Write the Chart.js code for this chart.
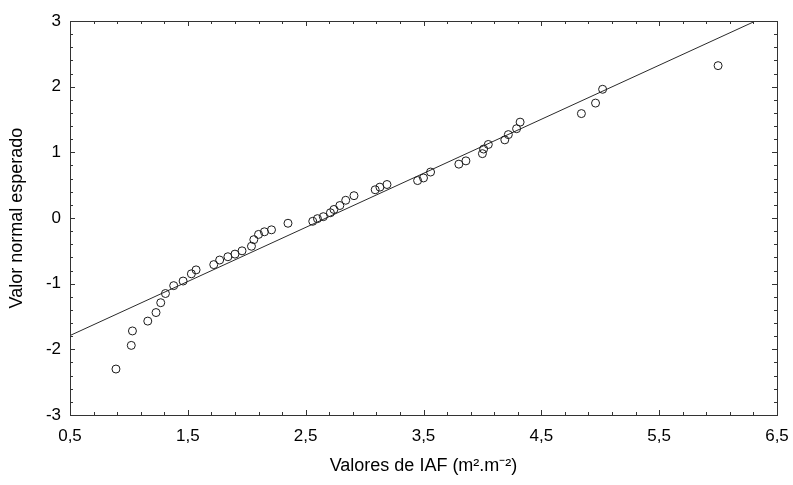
<!DOCTYPE html>
<html>
<head>
<meta charset="utf-8">
<script src="https://cdn.jsdelivr.net/npm/chart.js@4.4.0/dist/chart.umd.min.js"></script>
<style>
    body { margin: 0; background: #fff; }
    #wrap { width: 793px; height: 485px; }
</style>
</head>
<body>
<div id="wrap"><canvas id="probChart" width="793" height="485"></canvas></div>
<script>
// Observed IAF values and their expected normal scores
const iafValues = [
    0.89, 1.02, 1.03, 1.16, 1.23, 1.27, 1.31, 1.38, 1.46, 1.53,
    1.57, 1.72, 1.77, 1.84, 1.90, 1.96, 2.04, 2.06, 2.10, 2.15,
    2.21, 2.35, 2.56, 2.60, 2.65, 2.71, 2.74, 2.79, 2.84, 2.91,
    3.09, 3.13, 3.19, 3.45, 3.50, 3.56, 3.80, 3.86, 4.00, 4.01,
    4.05, 4.19, 4.22, 4.29, 4.32, 4.84, 4.96, 5.02, 6.00
];
const normalValues = [
    -2.30, -1.94, -1.72, -1.57, -1.44, -1.29, -1.15, -1.03, -0.96, -0.85,
    -0.79, -0.71, -0.64, -0.59, -0.55, -0.50, -0.43, -0.33, -0.25, -0.21,
    -0.18, -0.08, -0.05, -0.01, 0.02, 0.08, 0.13, 0.19, 0.27, 0.34,
    0.43, 0.47, 0.51, 0.57, 0.61, 0.70, 0.82, 0.87, 0.98, 1.05,
    1.12, 1.19, 1.27, 1.36, 1.46, 1.59, 1.75, 1.96, 2.32
];

// Reference line (ends of the fitted line)
const fitX = [0.5, 6.5];
const fitY = [-1.79, 3.15];

// Axis ticks
const xTickValues = [0.5, 1.5, 2.5, 3.5, 4.5, 5.5, 6.5];
const yTickValues = [-3, -2, -1, 0, 1, 2, 3];

const FONT = 'Liberation Sans, Arial, sans-serif';

// Frame with small inward ticks on all four sides
const framePlugin = {
    id: 'frame',
    afterDraw(chart) {
        const ctx = chart.ctx;
        const area = chart.chartArea;
        const xs = chart.scales.x;
        const ys = chart.scales.y;
        ctx.save();
        ctx.strokeStyle = '#333';
        ctx.lineWidth = 1;
        ctx.strokeRect(Math.round(area.left) + 0.5, Math.round(area.top) + 0.5,
            Math.round(area.right - area.left), Math.round(area.bottom - area.top));

        ctx.beginPath();
        for (let i = 0; i <= 30; i++) {
            const px = Math.round(xs.getPixelForValue(0.5 + i * 0.2)) + 0.5;
            const len = (i % 5 === 0) ? 5 : 3;
            ctx.moveTo(px, area.bottom);
            ctx.lineTo(px, area.bottom - len);
            ctx.moveTo(px, area.top);
            ctx.lineTo(px, area.top + len);
        }
        for (let i = 0; i <= 30; i++) {
            const py = Math.round(ys.getPixelForValue(-3 + i * 0.2)) + 0.5;
            const len = (i % 5 === 0) ? 5 : 3;
            ctx.moveTo(area.left, py);
            ctx.lineTo(area.left + len, py);
            ctx.moveTo(area.right, py);
            ctx.lineTo(area.right - len, py);
        }
        ctx.stroke();
        ctx.restore();
    }
};

const points = iafValues.map((v, i) => ({ x: v, y: normalValues[i] }));
const fitPoints = fitX.map((v, i) => ({ x: v, y: fitY[i] }));

new Chart(document.getElementById('probChart'), {
    type: 'scatter',
    data: {
        datasets: [
            {
                label: 'IAF',
                data: points,
                pointStyle: 'circle',
                pointRadius: 4,
                pointBorderWidth: 1,
                pointBorderColor: '#1a1a1a',
                pointBackgroundColor: 'rgba(255,255,255,0)',
                showLine: false
            },
            {
                label: 'Reta',
                type: 'line',
                data: fitPoints,
                borderColor: '#2a2a2a',
                borderWidth: 1,
                pointRadius: 0,
                fill: false
            }
        ]
    },
    options: {
        responsive: false,
        animation: false,
        layout: {
            padding: { top: 21, right: 16, left: 0, bottom: 0 }
        },
        plugins: {
            legend: { display: false },
            tooltip: { enabled: false }
        },
        scales: {
            x: {
                type: 'linear',
                min: 0.5,
                max: 6.5,
                afterBuildTicks: scale => {
                    scale.ticks = xTickValues.map(v => ({ value: v }));
                },
                afterFit: scale => {
                    scale.height = 70;
                    scale.paddingLeft = 0;
                    scale.paddingRight = 0;
                },
                grid: { display: false, drawTicks: false },
                border: { display: false },
                ticks: {
                    padding: 11,
                    color: '#000',
                    font: { family: FONT, size: 17 },
                    callback: v => Number(v).toFixed(1).replace('.', ',')
                },
                title: {
                    display: true,
                    text: 'Valores de IAF (m².m⁻²)',
                    color: '#000',
                    font: { family: FONT, size: 18 },
                    padding: { top: 0, bottom: 8 }
                }
            },
            y: {
                type: 'linear',
                min: -3,
                max: 3,
                afterBuildTicks: scale => {
                    scale.ticks = yTickValues.map(v => ({ value: v }));
                },
                afterFit: scale => {
                    scale.width = 70;
                    scale.paddingTop = 0;
                    scale.paddingBottom = 0;
                },
                grid: { display: false, drawTicks: false },
                border: { display: false },
                ticks: {
                    padding: 9,
                    color: '#000',
                    font: { family: FONT, size: 17 }
                },
                title: {
                    display: true,
                    text: 'Valor normal esperado',
                    color: '#000',
                    font: { family: FONT, size: 18 },
                    padding: { top: 6, bottom: 0 }
                }
            }
        }
    },
    plugins: [framePlugin]
});
</script>
</body>
</html>
